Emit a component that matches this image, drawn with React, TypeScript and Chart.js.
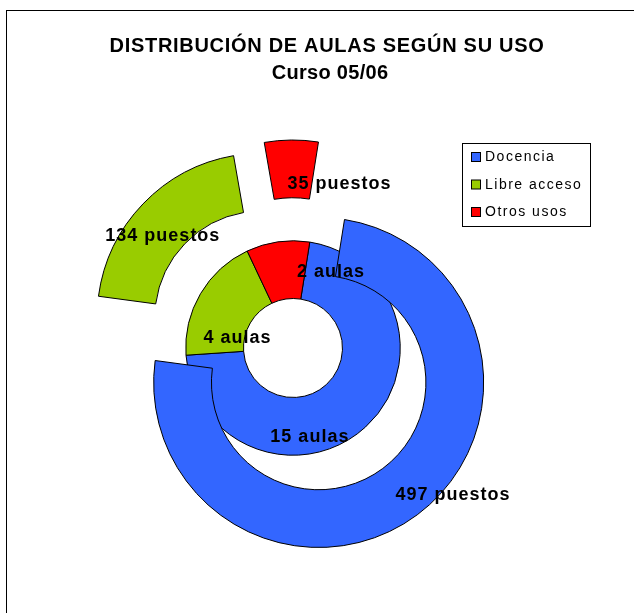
import React, { useEffect, useRef } from 'react';
import { Chart, registerables } from 'chart.js';

Chart.register(...registerables);

// ---- Data ----
const TITLE_LINES = ['DISTRIBUCIÓN DE AULAS SEGÚN SU USO', 'Curso 05/06'];
const CATEGORIES = ['Docencia', 'Libre acceso', 'Otros usos'];
const PUESTOS = [497, 134, 35];
const AULAS = [15, 4, 2];
const PUESTOS_UNIT = 'puestos';
const AULAS_UNIT = 'aulas';

// ---- Style ----
const COLORS = ['#3366FF', '#99CC00', '#FF0000'];
const EXPLODE = 43;
const FONT = '"Liberation Sans", Arial, sans-serif';
// label nudges (px) from each segment's centroid, per ring
const OUTER_NUDGE = [[53, 2], [-1, 11], [48, 14]];
const INNER_NUDGE = [[-36, 30], [12, 28], [49, 0]];

const explodePlugin = {
  id: 'explodeOuter',
  beforeDatasetDraw(chart: any, args: any) {
    if (args.index !== 0) return;
    const ctx = chart.ctx;
    args.meta.data.forEach((arc: any) => {
      const mid = (arc.startAngle + arc.endAngle) / 2;
      const ox = arc.x;
      const oy = arc.y;
      arc.x = ox + Math.cos(mid) * EXPLODE;
      arc.y = oy + Math.sin(mid) * EXPLODE;
      arc.draw(ctx, chart.chartArea);
      arc.x = ox;
      arc.y = oy;
    });
    return false;
  },
};

const labelPlugin = {
  id: 'segLabels',
  afterDatasetsDraw(chart: any) {
    const ctx = chart.ctx;
    ctx.save();
    ctx.font = `bold 18px ${FONT}`;
    (ctx as any).letterSpacing = '1px';
    ctx.fillStyle = '#000';
    ctx.textAlign = 'center';
    ctx.textBaseline = 'alphabetic';
    [0, 1].forEach((di) => {
      const meta = chart.getDatasetMeta(di);
      const ds = chart.data.datasets[di];
      const unit = di === 0 ? PUESTOS_UNIT : AULAS_UNIT;
      const nudges = di === 0 ? OUTER_NUDGE : INNER_NUDGE;
      const ex = di === 0 ? EXPLODE : 0;
      meta.data.forEach((arc: any, i: number) => {
        const mid = (arc.startAngle + arc.endAngle) / 2;
        const r = (arc.innerRadius + arc.outerRadius) / 2 + ex;
        const x = arc.x + Math.cos(mid) * r + nudges[i][0];
        const y = arc.y + Math.sin(mid) * r + nudges[i][1];
        ctx.fillText(`${ds.data[i]} ${unit}`, x, y + 6.4);
      });
    });
    ctx.restore();
  },
};

const decorPlugin = {
  id: 'decor',
  afterDraw(chart: any) {
    const ctx = chart.ctx;
    ctx.save();
    // frame
    ctx.strokeStyle = '#000';
    ctx.lineWidth = 1;
    ctx.strokeRect(6.5, 10.5, 1000, 1000);
    // title
    ctx.fillStyle = '#000';
    ctx.textAlign = 'center';
    ctx.textBaseline = 'alphabetic';
    ctx.font = `bold 20px ${FONT}`;
    (ctx as any).letterSpacing = '0.7px';
    ctx.fillText(TITLE_LINES[0], 327, 52);
    (ctx as any).letterSpacing = '0.3px';
    ctx.fillText(TITLE_LINES[1], 330, 79);
    // legend
    (ctx as any).letterSpacing = '1.5px';
    ctx.fillStyle = '#fff';
    ctx.fillRect(462.5, 143.5, 128, 83);
    ctx.strokeStyle = '#000';
    ctx.strokeRect(462.5, 143.5, 128, 83);
    ctx.font = `14px ${FONT}`;
    ctx.textAlign = 'left';
    const labels = chart.data.labels;
    labels.forEach((lab: string, i: number) => {
      const base = 161 + i * 27.5;
      ctx.fillStyle = COLORS[i];
      ctx.fillRect(471.5, base - 8.5, 9, 9);
      ctx.strokeStyle = '#000';
      ctx.strokeRect(471.5, base - 8.5, 9, 9);
      ctx.fillStyle = '#000';
      ctx.fillText(lab, 485, base);
    });
    ctx.restore();
  },
};

export default function App() {
  const ref = useRef<HTMLCanvasElement | null>(null);
  useEffect(() => {
    if (!ref.current) return;
    const common = {
      backgroundColor: COLORS,
      borderColor: '#000',
      borderWidth: 1,
      hoverBorderWidth: 1,
      hoverOffset: 0,
      offset: 0,
      borderJoinStyle: 'miter',
    };
    const chart = new Chart(ref.current, {
      type: 'doughnut',
      data: {
        labels: CATEGORIES,
        datasets: [
          { label: 'Puestos', data: PUESTOS, ...common } as any,
          { label: 'Aulas', data: AULAS, ...common } as any,
        ],
      },
      options: {
        animation: false,
        responsive: false,
        events: [],
        rotation: 9,
        circumference: 360,
        cutout: '30%',
        layout: { padding: { left: 127.5, top: 182.5, right: 175.5, bottom: 99.5 } },
        plugins: {
          legend: { display: false },
          title: { display: false },
          tooltip: { enabled: false },
        },
      } as any,
      plugins: [explodePlugin, labelPlugin, decorPlugin],
    });
    return () => chart.destroy();
  }, []);
  return (
    <div style={{ position: 'absolute', left: 0, top: 0, width: 634, height: 613, background: '#fff' }}>
      <canvas ref={ref} width={634} height={613} style={{ width: 634, height: 613, display: 'block' }} />
    </div>
  );
}
